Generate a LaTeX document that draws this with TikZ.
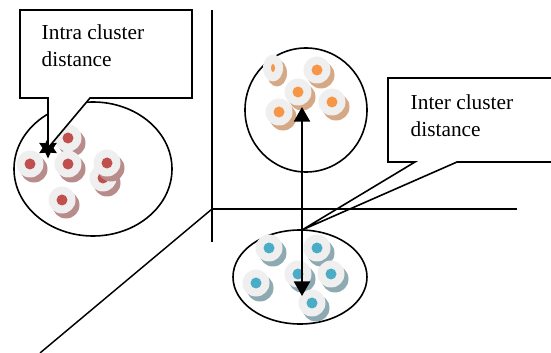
\documentclass[tikz,border=0pt]{standalone}
\usepackage{fontspec}
\setmainfont{Liberation Serif}
\usetikzlibrary{shapes.geometric,arrows.meta}
\definecolor{facec}{HTML}{EFEFEF}
\definecolor{redd}{HTML}{C0504D}
\definecolor{reds}{HTML}{B98C8C}
\definecolor{orad}{HTML}{F79646}
\definecolor{oras}{HTML}{D5A886}
\definecolor{blud}{HTML}{4BACC6}
\definecolor{blus}{HTML}{8DAAB2}
\newcommand\dsk[4]{%
  \fill[#3,shift={(4,5)}] #2 circle[radius=13.5];
  \node[face] (#1) at #2 {};
  \fill[#4] (#1.center) circle[radius=5.5];
}
\begin{document}
\begin{tikzpicture}[x=0.75pt,y=-0.75pt,
  line width=1.1pt,
  cluster/.style={draw,ellipse,inner sep=0pt,line width=1.2pt},
  face/.style={circle,fill=facec,minimum size=20.25pt,inner sep=0pt},
  label/.style={font=\fontsize{16}{20}\selectfont,align=left,anchor=north west,inner sep=0pt},
  callout/.style={fill=white,draw,line width=1.2pt},
  axis/.style={line width=1.1pt}]
\useasboundingbox (0,0) rectangle (551,353);
% clusters
\node[cluster,minimum width=118.5pt,minimum height=100.5pt] (c1) at (93,169) {};
\node[cluster,minimum width=91.5pt,minimum height=93pt] (c2) at (306,110) {};
\node[cluster,minimum width=100.5pt,minimum height=70.5pt] (c3) at (300,277) {};
% red points
\dsk{r1}{(68,138)}{reds}{redd}
\dsk{r2}{(30,164)}{reds}{redd}
\dsk{r6}{(103,178)}{reds}{redd}
\dsk{r3}{(68,164)}{reds}{redd}
\dsk{r4}{(107,163)}{reds}{redd}
\dsk{r5}{(62,200)}{reds}{redd}
% orange points
\fill[oras,shift={(4,5)}] (273,68) ellipse[x radius=10,y radius=13.5];
\node[face,ellipse,minimum width=15pt,minimum height=20.25pt] (o1) at (273,68) {};
\fill[orad] (o1.center) ellipse[x radius=2,y radius=4];
\dsk{o2}{(317,70)}{oras}{orad}
\dsk{o4}{(332,102)}{oras}{orad}
\dsk{o5}{(279,112)}{oras}{orad}
\dsk{o3}{(298,92)}{oras}{orad}
% blue points
\dsk{b1}{(269,248)}{blus}{blud}
\dsk{b2}{(317,248)}{blus}{blud}
\dsk{b5}{(256,283)}{blus}{blud}
\dsk{b3}{(298,274)}{blus}{blud}
\dsk{b4}{(331,274)}{blus}{blud}
\dsk{b6}{(312,303)}{blus}{blud}
% star marker
\node[star,star points=6,star point ratio=1.9,fill=black,minimum size=15.5pt,inner sep=0pt] (st) at (48,148) {};
% callouts
\coordinate (t2) at (302,230);
\path[callout] (20,10) -- (192,10) -- (192,98) -- (90,98) -- (st.center) -- (48,98) -- (20,98) -- cycle;
\path[callout] (551,78) -- (388,78) -- (388,162) -- (415,162) -- (t2) -- (457,162) -- (551,162);
\node[label] (l1) at (41,24) {Intra cluster\\distance};
\node[label] (l2) at (410,94) {Inter cluster\\distance};
% axes
\coordinate (o) at (212,209);
\coordinate (ay) at (212,10);
\coordinate (ay2) at (212,242);
\coordinate (ax) at (517,209);
\coordinate (az) at (40,353);
\draw[axis] (ay) -- (ay2);
\draw[axis] (o) -- (ax);
\draw[axis] (o) -- (az);
% inter-cluster arrow
\coordinate (at) at (302,107);
\coordinate (ab) at (302,296);
\draw[line width=1.8pt,{Triangle[width=12pt,length=11pt]}-{Triangle[width=12pt,length=11pt]}] (at) -- (ab);
\end{tikzpicture}
\end{document}
